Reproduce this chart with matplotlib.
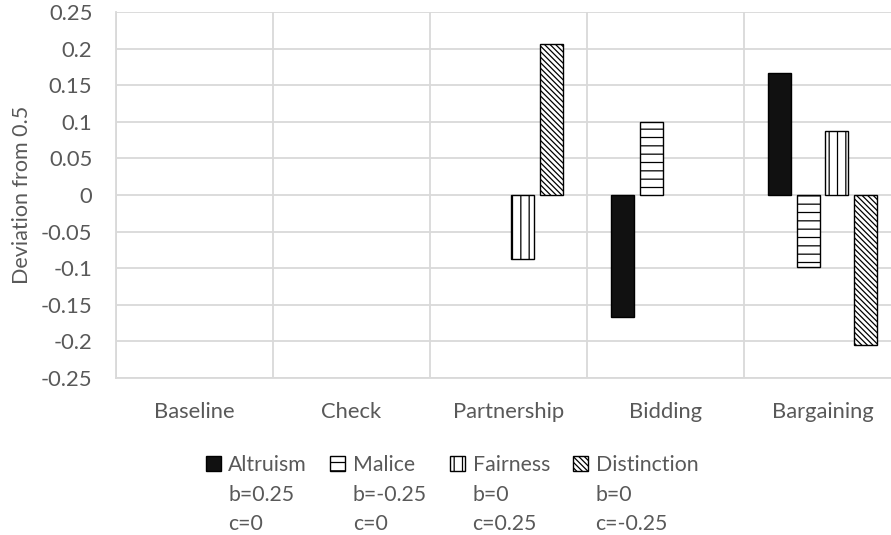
import numpy as np
import matplotlib
matplotlib.use("Agg")
import matplotlib.pyplot as plt
from matplotlib.patches import Rectangle

plt.rcParams['font.family'] = ['Lato', 'DejaVu Sans']
plt.rcParams['hatch.linewidth'] = 0.9

# treatments on the x axis
categories = ["Baseline", "Check", "Partnership", "Bidding", "Bargaining"]

# deviation from 0.5 for each preference type
altruism = [0.0, 0.0, 0.0, -0.166, 0.166]
malice = [0.0, 0.0, 0.0, 0.100, -0.099]
fairness = [0.0, 0.0, -0.087, 0.0, 0.087]
distinction = [0.0, 0.0, 0.206, 0.0, -0.205]

series_names = ["Altruism", "Malice", "Fairness", "Distinction"]
series_params = [("b=0.25", "c=0"), ("b=-0.25", "c=0"),
                 ("b=0", "c=0.25"), ("b=0", "c=-0.25")]
yticks = [0.25, 0.2, 0.15, 0.1, 0.05, 0, -0.05, -0.1, -0.15, -0.2, -0.25]

styles = [
    dict(facecolor="#111111", hatch=None),
    dict(facecolor="white", hatch="--"),
    dict(facecolor="white", hatch="||"),
    dict(facecolor="white", hatch="\\\\\\\\\\\\"),
]

grey = "#d9d9d9"
text_col = "#595959"
fs = 15.8

fig = plt.figure(figsize=(8.91, 5.35), dpi=100)
ax = fig.add_axes([116 / 891, 157 / 535, 785 / 891, 366 / 535])

x = np.arange(len(categories))
step = 0.1815
width = 0.146
offsets = (np.arange(4) - 1.5) * step
data = [altruism, malice, fairness, distinction]
handles = []
for vals, off, st in zip(data, offsets, styles):
    lw = [0 if v == 0 else 1.0 for v in vals]
    ax.bar(x + off, vals, width, color=st["facecolor"], edgecolor="black",
           hatch=st["hatch"], linewidth=lw, zorder=3)
    handles.append(Rectangle((0, 0), 1, 1, facecolor=st["facecolor"],
                             edgecolor="black", hatch=st["hatch"],
                             linewidth=1.0))

ax.set_xlim(-0.5, 4.5)
ax.set_ylim(-0.25, 0.25)
ax.set_yticks(yticks)
ax.set_yticklabels([f"{t:g}" for t in yticks])
ax.set_xticks(x)
ax.set_xticklabels(categories)
ax.set_xticks(np.arange(-0.5, 5.0, 1.0), minor=True)
ax.tick_params(axis="both", which="both", length=0, colors=text_col,
               labelsize=fs)
ax.tick_params(axis="y", pad=17)
ax.tick_params(axis="x", pad=17)
ax.grid(axis="y", which="major", color=grey, linewidth=1.3, zorder=0)
ax.grid(axis="x", which="minor", color=grey, linewidth=1.3, zorder=0)
for side in ["top", "right"]:
    ax.spines[side].set_visible(False)
for side in ["left", "bottom"]:
    ax.spines[side].set_color(grey)
    ax.spines[side].set_linewidth(1.3)

ax.set_ylabel("Deviation from 0.5", fontsize=15.5, color=text_col, labelpad=6)

# legend: one column per series, parameter lines listed under each name
blank = Rectangle((0, 0), 1, 1, visible=False)
leg_handles, leg_labels = [], []
for h, name, (b, c) in zip(handles, series_names, series_params):
    leg_handles += [h, blank, blank]
    leg_labels += [name, b, c]
fig.legend(leg_handles, leg_labels, ncol=4, loc="upper left",
           bbox_to_anchor=(206 / 891, 1 - 455 / 535), frameon=False,
           fontsize=15.3, labelcolor=text_col, handlelength=0.7,
           handleheight=0.7, handletextpad=0.35, columnspacing=1.1,
           labelspacing=0.45, borderpad=0, borderaxespad=0)

fig.savefig("out.png", dpi=100)
